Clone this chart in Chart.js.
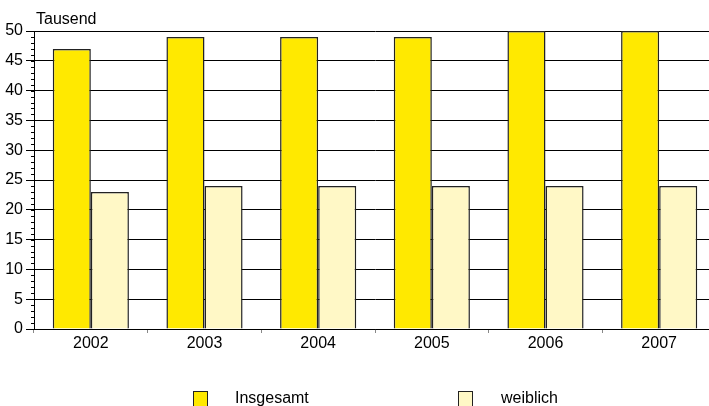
<!DOCTYPE html>
<html>
<head>
<meta charset="utf-8">
<script src="https://cdn.jsdelivr.net/npm/chart.js@4/dist/chart.umd.min.js"></script>
<style>
  body { margin: 0; overflow: hidden; background: #fff; }
</style>
</head>
<body>
<canvas id="myChart" width="716" height="406"></canvas>
<script>
// Werte in Tausend
var jahre = ['2002', '2003', '2004', '2005', '2006', '2007'];
var insgesamt = [47, 49, 49, 49, 50, 50];
var weiblich = [23, 24, 24, 24, 24, 24];
var yTicks = [0, 5, 10, 15, 20, 25, 30, 35, 40, 45, 50];

var fontName = '"Liberation Sans", Arial, sans-serif';

// kleine Striche an der y-Achse, Einheit "Tausend" und Legende
var extras = {
    id: 'extras',
    afterDraw: function (chart) {
        var c = chart.ctx;
        var y = chart.scales.y;
        var left = chart.chartArea.left;
        c.save();
        c.strokeStyle = '#000';
        c.lineWidth = 1;
        for (var v = 0; v <= 50; v++) {
            var py = Math.round(y.getPixelForValue(v)) + 0.5;
            c.beginPath();
            c.moveTo(left - 3, py);
            c.lineTo(left, py);
            c.stroke();
        }
        c.fillStyle = '#000';
        c.font = '16px ' + fontName;
        c.textBaseline = 'alphabetic';
        c.textAlign = 'left';
        c.fillText('Tausend', 36, 24);

        var items = [
            { x: 193, tx: 235 },
            { x: 458, tx: 501 }
        ];
        chart.data.datasets.forEach(function (ds, i) {
            var it = items[i];
            c.fillStyle = ds.backgroundColor;
            c.fillRect(it.x, 391, 14, 16);
            c.strokeStyle = '#222';
            c.strokeRect(it.x + 0.5, 391.5, 14, 16);
            c.fillStyle = '#000';
            c.fillText(ds.label, it.tx, 403);
        });
        c.restore();
    }
};

new Chart(document.getElementById('myChart'), {
    type: 'bar',
    data: {
        labels: jahre,
        datasets: [{
            label: 'Insgesamt',
            data: insgesamt,
            backgroundColor: '#FFE900',
            borderColor: '#222',
            borderWidth: 1.5,
            borderSkipped: 'bottom'
        }, {
            label: 'weiblich',
            data: weiblich,
            backgroundColor: '#FFF8C6',
            borderColor: '#222',
            borderWidth: 1.5,
            borderSkipped: 'bottom'
        }]
    },
    options: {
        responsive: false,
        animation: false,
        datasets: {
            bar: { categoryPercentage: 0.67, barPercentage: 1 }
        },
        layout: { padding: { top: 31, bottom: 57, left: 0, right: 0 } },
        plugins: {
            legend: { display: false },
            tooltip: { enabled: false }
        },
        scales: {
            x: {
                grid: { display: true, drawOnChartArea: false, tickLength: 4, color: '#888' },
                border: { color: '#000' },
                ticks: { color: '#000', font: { family: fontName, size: 16 }, padding: 1 },
                afterFit: function (s) { s.height = 20; }
            },
            y: {
                min: 0,
                max: 50,
                afterBuildTicks: function (s) {
                    s.ticks = yTicks.map(function (v) { return { value: v }; });
                },
                grid: { color: '#000', tickLength: 8 },
                border: { color: '#000' },
                ticks: { color: '#000', font: { family: fontName, size: 16 }, padding: 3 },
                afterFit: function (s) { s.width = 34; }
            }
        }
    },
    plugins: [extras]
});
</script>
</body>
</html>
